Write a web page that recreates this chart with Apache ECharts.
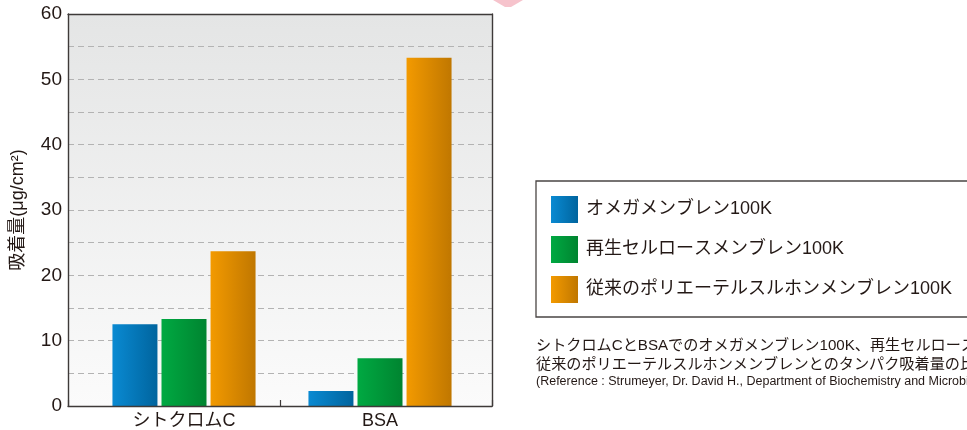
<!DOCTYPE html>
<html>
<head>
<meta charset="utf-8">
<script src="https://cdn.jsdelivr.net/npm/echarts@6/dist/echarts.min.js"></script>
<style>
html,body{margin:0;padding:0;background:#fff;}
#chart{width:967px;height:430px;}
</style>
</head>
<body>
<div id="chart"></div>
<script>
const categories = ['シトクロムC', 'BSA'];
const seriesNames = ['オメガメンブレン100K', '再生セルロースメンブレン100K', '従来のポリエーテルスルホンメンブレン100K'];
const omegaValues = [12.5, 2.3];
const celluloseValues = [13.3, 7.3];
const pesValues = [23.7, 53.3];
const yTickLabels = [0, 10, 20, 30, 40, 50, 60];
const captionLines = [
  'シトクロムCとBSAでのオメガメンブレン100K、再生セルロースメンブレン100K、',
  '従来のポリエーテルスルホンメンブレンとのタンパク吸着量の比較',
  '(Reference : Strumeyer, Dr. David H., Department of Biochemistry and Microbiology)'
];

const FONT = '"Liberation Sans", "Noto Sans CJK JP", sans-serif';
const TEXT = '#231815';
const FRAME = '#3e3a39';

function grad(a, b) {
  return new echarts.graphic.LinearGradient(0, 0, 1, 0, [
    { offset: 0, color: a }, { offset: 1, color: b }
  ]);
}
const colors = [grad('#0a8ad2', '#00649e'), grad('#00a942', '#008430'), grad('#f39a00', '#c07700')];
const seriesData = [omegaValues, celluloseValues, pesValues];

const chart = echarts.init(document.getElementById('chart'), null, { renderer: 'canvas' });
chart.setOption({
  animation: false,
  textStyle: { fontFamily: FONT },
  grid: [
    {
      left: 68, top: 14, width: 424, height: 392,
      show: true,
      backgroundColor: new echarts.graphic.LinearGradient(0, 0, 0, 1, [
        { offset: 0, color: '#e4e5e5' }, { offset: 1, color: '#fbfbfb' }
      ]),
      borderWidth: 0
    },
    { left: 86, top: 14, width: 392, height: 392, show: false }
  ],
  xAxis: [
    {
      gridIndex: 0, type: 'category', data: ['', ''], position: 'bottom',
      axisLine: { show: true, onZero: false, lineStyle: { color: FRAME, width: 1.4 } },
      axisTick: { show: true, inside: true, length: 6, lineStyle: { color: FRAME, width: 1.2 } },
      axisLabel: { show: false }, splitLine: { show: false }, z: 10
    },
    {
      gridIndex: 0, type: 'category', data: ['', ''], position: 'top',
      axisLine: { show: true, onZero: false, lineStyle: { color: FRAME, width: 1.4 } },
      axisTick: { show: false }, axisLabel: { show: false }, splitLine: { show: false }, z: 10
    },
    {
      gridIndex: 1, type: 'category', data: categories,
      axisLine: { show: false }, axisTick: { show: false },
      axisLabel: { fontSize: 18, color: TEXT, margin: 6, fontFamily: FONT }
    }
  ],
  yAxis: [
    {
      gridIndex: 0, type: 'value', min: 0, max: 60, interval: 5,
      name: '吸着量(μg/cm²)', nameLocation: 'middle', nameGap: 41, nameRotate: 90,
      nameTextStyle: { fontSize: 18, color: TEXT, fontFamily: FONT },
      axisLine: { show: true, onZero: false, lineStyle: { color: FRAME, width: 1.4 } },
      axisTick: { show: false },
      axisLabel: {
        fontSize: 19, color: TEXT, margin: 6, fontFamily: FONT,
        formatter: v => (yTickLabels.indexOf(v) >= 0 ? String(v) : '')
      },
      splitLine: { show: true, lineStyle: { color: '#b3b3b3', type: [6, 4], width: 1 } },
      z: 2
    },
    {
      gridIndex: 0, type: 'value', min: 0, max: 60, position: 'right',
      axisLine: { show: true, onZero: false, lineStyle: { color: FRAME, width: 1.4 } },
      axisTick: { show: false }, axisLabel: { show: false }, splitLine: { show: false }, z: 10
    },
    {
      gridIndex: 1, type: 'value', min: 0, max: 60, show: false
    }
  ],
  legend: {
    orient: 'vertical', left: 536, top: 181,
    padding: [15, 80, 14, 15],
    itemWidth: 27, itemHeight: 27, itemGap: 13,
    icon: 'rect',
    borderColor: '#4a4544', borderWidth: 1.3,
    textStyle: { fontSize: 18, color: TEXT, fontFamily: FONT, padding: [0, 0, 0, 3] },
    data: seriesNames
  },
  series: seriesNames.map((name, i) => ({
    name: name, type: 'bar', xAxisIndex: 2, yAxisIndex: 2,
    barWidth: 45, barGap: '9%',
    itemStyle: { color: colors[i] },
    data: seriesData[i]
  })),
  graphic: [
    {
      type: 'polygon', shape: { points: [[493, 0], [523, 0], [511, 7], [505, 7]] },
      style: { fill: '#f6c3cc' }, silent: true
    },
    {
      type: 'text', left: 536, top: 338,
      style: { text: captionLines[0], fontSize: 15.15, fill: TEXT, fontFamily: FONT }
    },
    {
      type: 'text', left: 536, top: 357,
      style: { text: captionLines[1], fontSize: 15.15, fill: TEXT, fontFamily: FONT }
    },
    {
      type: 'text', left: 536, top: 375,
      style: { text: captionLines[2], fontSize: 12.5, fill: TEXT, fontFamily: FONT }
    }
  ]
});
</script>
</body>
</html>
